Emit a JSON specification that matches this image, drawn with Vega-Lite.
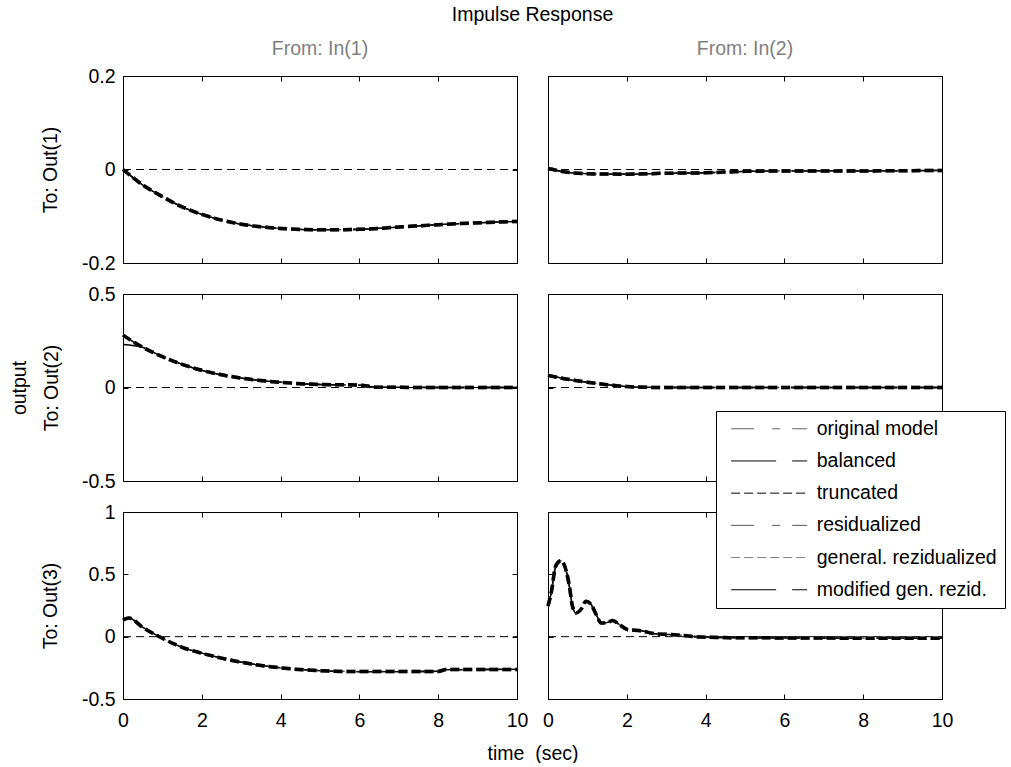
{
"$schema": "https://vega.github.io/schema/vega-lite/v6.json",
"background": "white",
"padding": {"left": 8, "top": 4, "right": 0, "bottom": 0},
"title": {"text": "Impulse Response", "anchor": "start", "frame": "group", "align": "center", "dx": 409.5, "fontSize": 19.5, "fontWeight": "normal", "color": "black", "font": "Liberation Sans", "offset": 13},
"data": {"values": [
{"p":11,"m":"A","t":0,"y":0},{"p":11,"m":"A","t":0.5,"y":-0.033},{"p":11,"m":"A","t":1,"y":-0.058},{"p":11,"m":"A","t":1.5,"y":-0.08},{"p":11,"m":"A","t":2,"y":-0.096},{"p":11,"m":"A","t":3,"y":-0.117},{"p":11,"m":"A","t":4,"y":-0.126},{"p":11,"m":"A","t":5,"y":-0.129},{"p":11,"m":"A","t":6,"y":-0.128},{"p":11,"m":"A","t":7,"y":-0.123},{"p":11,"m":"A","t":8,"y":-0.118},{"p":11,"m":"A","t":10,"y":-0.111},
{"p":11,"m":"B","t":0,"y":0},{"p":11,"m":"B","t":0.5,"y":-0.033},{"p":11,"m":"B","t":1,"y":-0.058},{"p":11,"m":"B","t":1.5,"y":-0.08},{"p":11,"m":"B","t":2,"y":-0.096},{"p":11,"m":"B","t":3,"y":-0.117},{"p":11,"m":"B","t":4,"y":-0.126},{"p":11,"m":"B","t":5,"y":-0.129},{"p":11,"m":"B","t":6,"y":-0.128},{"p":11,"m":"B","t":7,"y":-0.123},{"p":11,"m":"B","t":8,"y":-0.118},{"p":11,"m":"B","t":10,"y":-0.111},
{"p":11,"m":"D","t":0,"y":0},{"p":11,"m":"D","t":0.5,"y":-0.033},{"p":11,"m":"D","t":1,"y":-0.058},{"p":11,"m":"D","t":1.5,"y":-0.08},{"p":11,"m":"D","t":2,"y":-0.096},{"p":11,"m":"D","t":3,"y":-0.117},{"p":11,"m":"D","t":4,"y":-0.126},{"p":11,"m":"D","t":5,"y":-0.129},{"p":11,"m":"D","t":6,"y":-0.128},{"p":11,"m":"D","t":7,"y":-0.123},{"p":11,"m":"D","t":8,"y":-0.118},{"p":11,"m":"D","t":10,"y":-0.111},
{"p":11,"m":"F","t":0,"y":0},{"p":11,"m":"F","t":0.5,"y":-0.033},{"p":11,"m":"F","t":1,"y":-0.058},{"p":11,"m":"F","t":1.5,"y":-0.08},{"p":11,"m":"F","t":2,"y":-0.096},{"p":11,"m":"F","t":3,"y":-0.117},{"p":11,"m":"F","t":4,"y":-0.126},{"p":11,"m":"F","t":5,"y":-0.129},{"p":11,"m":"F","t":6,"y":-0.128},{"p":11,"m":"F","t":7,"y":-0.123},{"p":11,"m":"F","t":8,"y":-0.118},{"p":11,"m":"F","t":10,"y":-0.111},
{"p":11,"m":"E","t":0,"y":0},{"p":11,"m":"E","t":0.5,"y":-0.033},{"p":11,"m":"E","t":1,"y":-0.058},{"p":11,"m":"E","t":1.5,"y":-0.08},{"p":11,"m":"E","t":2,"y":-0.096},{"p":11,"m":"E","t":3,"y":-0.117},{"p":11,"m":"E","t":4,"y":-0.126},{"p":11,"m":"E","t":5,"y":-0.129},{"p":11,"m":"E","t":6,"y":-0.128},{"p":11,"m":"E","t":7,"y":-0.123},{"p":11,"m":"E","t":8,"y":-0.118},{"p":11,"m":"E","t":10,"y":-0.111},
{"p":11,"m":"C","t":0,"y":0},{"p":11,"m":"C","t":0.5,"y":-0.033},{"p":11,"m":"C","t":1,"y":-0.058},{"p":11,"m":"C","t":1.5,"y":-0.08},{"p":11,"m":"C","t":2,"y":-0.096},{"p":11,"m":"C","t":3,"y":-0.117},{"p":11,"m":"C","t":4,"y":-0.126},{"p":11,"m":"C","t":5,"y":-0.129},{"p":11,"m":"C","t":6,"y":-0.128},{"p":11,"m":"C","t":7,"y":-0.123},{"p":11,"m":"C","t":8,"y":-0.118},{"p":11,"m":"C","t":10,"y":-0.111},

{"p":12,"m":"A","t":0,"y":0.002},{"p":12,"m":"A","t":0.5,"y":-0.006},{"p":12,"m":"A","t":1,"y":-0.009},{"p":12,"m":"A","t":2,"y":-0.01},{"p":12,"m":"A","t":3,"y":-0.008},{"p":12,"m":"A","t":4,"y":-0.007},{"p":12,"m":"A","t":5,"y":-0.004},{"p":12,"m":"A","t":6,"y":-0.003},{"p":12,"m":"A","t":8,"y":-0.003},{"p":12,"m":"A","t":10,"y":-0.002},
{"p":12,"m":"B","t":0,"y":0.002},{"p":12,"m":"B","t":0.5,"y":-0.006},{"p":12,"m":"B","t":1,"y":-0.009},{"p":12,"m":"B","t":2,"y":-0.01},{"p":12,"m":"B","t":3,"y":-0.008},{"p":12,"m":"B","t":4,"y":-0.007},{"p":12,"m":"B","t":5,"y":-0.004},{"p":12,"m":"B","t":6,"y":-0.003},{"p":12,"m":"B","t":8,"y":-0.003},{"p":12,"m":"B","t":10,"y":-0.002},
{"p":12,"m":"D","t":0,"y":0.002},{"p":12,"m":"D","t":0.5,"y":-0.006},{"p":12,"m":"D","t":1,"y":-0.009},{"p":12,"m":"D","t":2,"y":-0.01},{"p":12,"m":"D","t":3,"y":-0.008},{"p":12,"m":"D","t":4,"y":-0.007},{"p":12,"m":"D","t":5,"y":-0.004},{"p":12,"m":"D","t":6,"y":-0.003},{"p":12,"m":"D","t":8,"y":-0.003},{"p":12,"m":"D","t":10,"y":-0.002},
{"p":12,"m":"F","t":0,"y":0.002},{"p":12,"m":"F","t":0.5,"y":-0.006},{"p":12,"m":"F","t":1,"y":-0.009},{"p":12,"m":"F","t":2,"y":-0.01},{"p":12,"m":"F","t":3,"y":-0.008},{"p":12,"m":"F","t":4,"y":-0.007},{"p":12,"m":"F","t":5,"y":-0.004},{"p":12,"m":"F","t":6,"y":-0.003},{"p":12,"m":"F","t":8,"y":-0.003},{"p":12,"m":"F","t":10,"y":-0.002},
{"p":12,"m":"E","t":0,"y":0.002},{"p":12,"m":"E","t":0.5,"y":-0.006},{"p":12,"m":"E","t":1,"y":-0.009},{"p":12,"m":"E","t":2,"y":-0.01},{"p":12,"m":"E","t":3,"y":-0.008},{"p":12,"m":"E","t":4,"y":-0.007},{"p":12,"m":"E","t":5,"y":-0.004},{"p":12,"m":"E","t":6,"y":-0.003},{"p":12,"m":"E","t":8,"y":-0.003},{"p":12,"m":"E","t":10,"y":-0.002},
{"p":12,"m":"C","t":0,"y":0.002},{"p":12,"m":"C","t":0.5,"y":-0.006},{"p":12,"m":"C","t":1,"y":-0.009},{"p":12,"m":"C","t":2,"y":-0.01},{"p":12,"m":"C","t":3,"y":-0.008},{"p":12,"m":"C","t":4,"y":-0.007},{"p":12,"m":"C","t":5,"y":-0.004},{"p":12,"m":"C","t":6,"y":-0.003},{"p":12,"m":"C","t":8,"y":-0.003},{"p":12,"m":"C","t":10,"y":-0.002},

{"p":21,"m":"A","t":0,"y":0.28},{"p":21,"m":"A","t":0.5,"y":0.215},{"p":21,"m":"A","t":1,"y":0.165},{"p":21,"m":"A","t":1.5,"y":0.124},{"p":21,"m":"A","t":2,"y":0.092},{"p":21,"m":"A","t":3,"y":0.05},{"p":21,"m":"A","t":4,"y":0.028},{"p":21,"m":"A","t":5,"y":0.016},{"p":21,"m":"A","t":6,"y":0.013},{"p":21,"m":"A","t":6.4,"y":0.002},{"p":21,"m":"A","t":8,"y":0},{"p":21,"m":"A","t":10,"y":0},
{"p":21,"m":"B","t":0,"y":0.23},{"p":21,"m":"B","t":0.5,"y":0.215},{"p":21,"m":"B","t":1,"y":0.165},{"p":21,"m":"B","t":1.5,"y":0.124},{"p":21,"m":"B","t":2,"y":0.092},{"p":21,"m":"B","t":3,"y":0.05},{"p":21,"m":"B","t":4,"y":0.028},{"p":21,"m":"B","t":5,"y":0.016},{"p":21,"m":"B","t":6,"y":0.013},{"p":21,"m":"B","t":6.4,"y":0.002},{"p":21,"m":"B","t":8,"y":0},{"p":21,"m":"B","t":10,"y":0},
{"p":21,"m":"D","t":0,"y":0.28},{"p":21,"m":"D","t":0.5,"y":0.215},{"p":21,"m":"D","t":1,"y":0.165},{"p":21,"m":"D","t":1.5,"y":0.124},{"p":21,"m":"D","t":2,"y":0.092},{"p":21,"m":"D","t":3,"y":0.05},{"p":21,"m":"D","t":4,"y":0.028},{"p":21,"m":"D","t":5,"y":0.016},{"p":21,"m":"D","t":6,"y":0.013},{"p":21,"m":"D","t":6.4,"y":0.002},{"p":21,"m":"D","t":8,"y":0},{"p":21,"m":"D","t":10,"y":0},
{"p":21,"m":"F","t":0,"y":0.28},{"p":21,"m":"F","t":0.5,"y":0.215},{"p":21,"m":"F","t":1,"y":0.165},{"p":21,"m":"F","t":1.5,"y":0.124},{"p":21,"m":"F","t":2,"y":0.092},{"p":21,"m":"F","t":3,"y":0.05},{"p":21,"m":"F","t":4,"y":0.028},{"p":21,"m":"F","t":5,"y":0.016},{"p":21,"m":"F","t":6,"y":0.013},{"p":21,"m":"F","t":6.4,"y":0.002},{"p":21,"m":"F","t":8,"y":0},{"p":21,"m":"F","t":10,"y":0},
{"p":21,"m":"E","t":0,"y":0.28},{"p":21,"m":"E","t":0.5,"y":0.215},{"p":21,"m":"E","t":1,"y":0.165},{"p":21,"m":"E","t":1.5,"y":0.124},{"p":21,"m":"E","t":2,"y":0.092},{"p":21,"m":"E","t":3,"y":0.05},{"p":21,"m":"E","t":4,"y":0.028},{"p":21,"m":"E","t":5,"y":0.016},{"p":21,"m":"E","t":6,"y":0.013},{"p":21,"m":"E","t":6.4,"y":0.002},{"p":21,"m":"E","t":8,"y":0},{"p":21,"m":"E","t":10,"y":0},
{"p":21,"m":"C","t":0,"y":0.28},{"p":21,"m":"C","t":0.5,"y":0.215},{"p":21,"m":"C","t":1,"y":0.165},{"p":21,"m":"C","t":1.5,"y":0.124},{"p":21,"m":"C","t":2,"y":0.092},{"p":21,"m":"C","t":3,"y":0.05},{"p":21,"m":"C","t":4,"y":0.028},{"p":21,"m":"C","t":5,"y":0.016},{"p":21,"m":"C","t":6,"y":0.013},{"p":21,"m":"C","t":6.4,"y":0.002},{"p":21,"m":"C","t":8,"y":0},{"p":21,"m":"C","t":10,"y":0},

{"p":22,"m":"A","t":0,"y":0.065},{"p":22,"m":"A","t":0.5,"y":0.044},{"p":22,"m":"A","t":1,"y":0.028},{"p":22,"m":"A","t":1.5,"y":0.015},{"p":22,"m":"A","t":2,"y":0.005},{"p":22,"m":"A","t":2.5,"y":0.001},{"p":22,"m":"A","t":3,"y":0},{"p":22,"m":"A","t":5,"y":0},{"p":22,"m":"A","t":10,"y":0},
{"p":22,"m":"B","t":0,"y":0.065},{"p":22,"m":"B","t":0.5,"y":0.044},{"p":22,"m":"B","t":1,"y":0.028},{"p":22,"m":"B","t":1.5,"y":0.015},{"p":22,"m":"B","t":2,"y":0.005},{"p":22,"m":"B","t":2.5,"y":0.001},{"p":22,"m":"B","t":3,"y":0},{"p":22,"m":"B","t":5,"y":0},{"p":22,"m":"B","t":10,"y":0},
{"p":22,"m":"D","t":0,"y":0.065},{"p":22,"m":"D","t":0.5,"y":0.044},{"p":22,"m":"D","t":1,"y":0.028},{"p":22,"m":"D","t":1.5,"y":0.015},{"p":22,"m":"D","t":2,"y":0.005},{"p":22,"m":"D","t":2.5,"y":0.001},{"p":22,"m":"D","t":3,"y":0},{"p":22,"m":"D","t":5,"y":0},{"p":22,"m":"D","t":10,"y":0},
{"p":22,"m":"F","t":0,"y":0.065},{"p":22,"m":"F","t":0.5,"y":0.044},{"p":22,"m":"F","t":1,"y":0.028},{"p":22,"m":"F","t":1.5,"y":0.015},{"p":22,"m":"F","t":2,"y":0.005},{"p":22,"m":"F","t":2.5,"y":0.001},{"p":22,"m":"F","t":3,"y":0},{"p":22,"m":"F","t":5,"y":0},{"p":22,"m":"F","t":10,"y":0},
{"p":22,"m":"E","t":0,"y":0.065},{"p":22,"m":"E","t":0.5,"y":0.044},{"p":22,"m":"E","t":1,"y":0.028},{"p":22,"m":"E","t":1.5,"y":0.015},{"p":22,"m":"E","t":2,"y":0.005},{"p":22,"m":"E","t":2.5,"y":0.001},{"p":22,"m":"E","t":3,"y":0},{"p":22,"m":"E","t":5,"y":0},{"p":22,"m":"E","t":10,"y":0},
{"p":22,"m":"C","t":0,"y":0.065},{"p":22,"m":"C","t":0.5,"y":0.044},{"p":22,"m":"C","t":1,"y":0.028},{"p":22,"m":"C","t":1.5,"y":0.015},{"p":22,"m":"C","t":2,"y":0.005},{"p":22,"m":"C","t":2.5,"y":0.001},{"p":22,"m":"C","t":3,"y":0},{"p":22,"m":"C","t":5,"y":0},{"p":22,"m":"C","t":10,"y":0},

{"p":31,"m":"A","t":0,"y":0.135},{"p":31,"m":"A","t":0.15,"y":0.149},{"p":31,"m":"A","t":0.5,"y":0.075},{"p":31,"m":"A","t":1,"y":-0.013},{"p":31,"m":"A","t":1.5,"y":-0.085},{"p":31,"m":"A","t":2,"y":-0.133},{"p":31,"m":"A","t":2.5,"y":-0.172},{"p":31,"m":"A","t":3,"y":-0.205},{"p":31,"m":"A","t":4,"y":-0.25},{"p":31,"m":"A","t":5,"y":-0.273},{"p":31,"m":"A","t":6,"y":-0.28},{"p":31,"m":"A","t":8,"y":-0.279},{"p":31,"m":"A","t":8.2,"y":-0.264},{"p":31,"m":"A","t":10,"y":-0.263},
{"p":31,"m":"B","t":0,"y":0.135},{"p":31,"m":"B","t":0.15,"y":0.149},{"p":31,"m":"B","t":0.5,"y":0.075},{"p":31,"m":"B","t":1,"y":-0.013},{"p":31,"m":"B","t":1.5,"y":-0.085},{"p":31,"m":"B","t":2,"y":-0.133},{"p":31,"m":"B","t":2.5,"y":-0.172},{"p":31,"m":"B","t":3,"y":-0.205},{"p":31,"m":"B","t":4,"y":-0.25},{"p":31,"m":"B","t":5,"y":-0.273},{"p":31,"m":"B","t":6,"y":-0.28},{"p":31,"m":"B","t":8,"y":-0.279},{"p":31,"m":"B","t":8.2,"y":-0.264},{"p":31,"m":"B","t":10,"y":-0.263},
{"p":31,"m":"D","t":0,"y":0.135},{"p":31,"m":"D","t":0.15,"y":0.149},{"p":31,"m":"D","t":0.5,"y":0.075},{"p":31,"m":"D","t":1,"y":-0.013},{"p":31,"m":"D","t":1.5,"y":-0.085},{"p":31,"m":"D","t":2,"y":-0.133},{"p":31,"m":"D","t":2.5,"y":-0.172},{"p":31,"m":"D","t":3,"y":-0.205},{"p":31,"m":"D","t":4,"y":-0.25},{"p":31,"m":"D","t":5,"y":-0.273},{"p":31,"m":"D","t":6,"y":-0.28},{"p":31,"m":"D","t":8,"y":-0.279},{"p":31,"m":"D","t":8.2,"y":-0.264},{"p":31,"m":"D","t":10,"y":-0.263},
{"p":31,"m":"F","t":0,"y":0.135},{"p":31,"m":"F","t":0.15,"y":0.149},{"p":31,"m":"F","t":0.5,"y":0.075},{"p":31,"m":"F","t":1,"y":-0.013},{"p":31,"m":"F","t":1.5,"y":-0.085},{"p":31,"m":"F","t":2,"y":-0.133},{"p":31,"m":"F","t":2.5,"y":-0.172},{"p":31,"m":"F","t":3,"y":-0.205},{"p":31,"m":"F","t":4,"y":-0.25},{"p":31,"m":"F","t":5,"y":-0.273},{"p":31,"m":"F","t":6,"y":-0.28},{"p":31,"m":"F","t":8,"y":-0.279},{"p":31,"m":"F","t":8.2,"y":-0.264},{"p":31,"m":"F","t":10,"y":-0.263},
{"p":31,"m":"E","t":0,"y":0.135},{"p":31,"m":"E","t":0.15,"y":0.149},{"p":31,"m":"E","t":0.5,"y":0.075},{"p":31,"m":"E","t":1,"y":-0.013},{"p":31,"m":"E","t":1.5,"y":-0.085},{"p":31,"m":"E","t":2,"y":-0.133},{"p":31,"m":"E","t":2.5,"y":-0.172},{"p":31,"m":"E","t":3,"y":-0.205},{"p":31,"m":"E","t":4,"y":-0.25},{"p":31,"m":"E","t":5,"y":-0.273},{"p":31,"m":"E","t":6,"y":-0.28},{"p":31,"m":"E","t":8,"y":-0.279},{"p":31,"m":"E","t":8.2,"y":-0.264},{"p":31,"m":"E","t":10,"y":-0.263},
{"p":31,"m":"C","t":0,"y":0.135},{"p":31,"m":"C","t":0.15,"y":0.149},{"p":31,"m":"C","t":0.5,"y":0.075},{"p":31,"m":"C","t":1,"y":-0.013},{"p":31,"m":"C","t":1.5,"y":-0.085},{"p":31,"m":"C","t":2,"y":-0.133},{"p":31,"m":"C","t":2.5,"y":-0.172},{"p":31,"m":"C","t":3,"y":-0.205},{"p":31,"m":"C","t":4,"y":-0.25},{"p":31,"m":"C","t":5,"y":-0.273},{"p":31,"m":"C","t":6,"y":-0.28},{"p":31,"m":"C","t":8,"y":-0.279},{"p":31,"m":"C","t":8.2,"y":-0.264},{"p":31,"m":"C","t":10,"y":-0.263},

{"p":32,"m":"A","t":0,"y":0.245},{"p":32,"m":"A","t":0.08,"y":0.35},{"p":32,"m":"A","t":0.2,"y":0.57},{"p":32,"m":"A","t":0.33,"y":0.61},{"p":32,"m":"A","t":0.46,"y":0.53},{"p":32,"m":"A","t":0.54,"y":0.41},{"p":32,"m":"A","t":0.62,"y":0.245},{"p":32,"m":"A","t":0.71,"y":0.19},{"p":32,"m":"A","t":0.84,"y":0.22},{"p":32,"m":"A","t":0.96,"y":0.285},{"p":32,"m":"A","t":1.09,"y":0.26},{"p":32,"m":"A","t":1.22,"y":0.18},{"p":32,"m":"A","t":1.35,"y":0.11},{"p":32,"m":"A","t":1.52,"y":0.115},{"p":32,"m":"A","t":1.64,"y":0.13},{"p":32,"m":"A","t":1.81,"y":0.097},{"p":32,"m":"A","t":2.03,"y":0.056},{"p":32,"m":"A","t":2.36,"y":0.048},{"p":32,"m":"A","t":2.7,"y":0.024},{"p":32,"m":"A","t":3.2,"y":0.016},{"p":32,"m":"A","t":3.9,"y":-0.003},{"p":32,"m":"A","t":4.6,"y":-0.008},{"p":32,"m":"A","t":6,"y":-0.01},{"p":32,"m":"A","t":8,"y":-0.012},{"p":32,"m":"A","t":10,"y":-0.012},
{"p":32,"m":"B","t":0,"y":0.245},{"p":32,"m":"B","t":0.08,"y":0.35},{"p":32,"m":"B","t":0.2,"y":0.57},{"p":32,"m":"B","t":0.33,"y":0.61},{"p":32,"m":"B","t":0.46,"y":0.53},{"p":32,"m":"B","t":0.54,"y":0.41},{"p":32,"m":"B","t":0.62,"y":0.245},{"p":32,"m":"B","t":0.71,"y":0.19},{"p":32,"m":"B","t":0.84,"y":0.22},{"p":32,"m":"B","t":0.96,"y":0.285},{"p":32,"m":"B","t":1.09,"y":0.26},{"p":32,"m":"B","t":1.22,"y":0.18},{"p":32,"m":"B","t":1.35,"y":0.11},{"p":32,"m":"B","t":1.52,"y":0.115},{"p":32,"m":"B","t":1.64,"y":0.13},{"p":32,"m":"B","t":1.81,"y":0.097},{"p":32,"m":"B","t":2.03,"y":0.056},{"p":32,"m":"B","t":2.36,"y":0.048},{"p":32,"m":"B","t":2.7,"y":0.024},{"p":32,"m":"B","t":3.2,"y":0.016},{"p":32,"m":"B","t":3.9,"y":-0.003},{"p":32,"m":"B","t":4.6,"y":-0.008},{"p":32,"m":"B","t":6,"y":-0.01},{"p":32,"m":"B","t":8,"y":-0.012},{"p":32,"m":"B","t":10,"y":-0.012},
{"p":32,"m":"D","t":0,"y":0.245},{"p":32,"m":"D","t":0.08,"y":0.35},{"p":32,"m":"D","t":0.2,"y":0.57},{"p":32,"m":"D","t":0.33,"y":0.61},{"p":32,"m":"D","t":0.46,"y":0.53},{"p":32,"m":"D","t":0.54,"y":0.41},{"p":32,"m":"D","t":0.62,"y":0.245},{"p":32,"m":"D","t":0.71,"y":0.19},{"p":32,"m":"D","t":0.84,"y":0.22},{"p":32,"m":"D","t":0.96,"y":0.285},{"p":32,"m":"D","t":1.09,"y":0.26},{"p":32,"m":"D","t":1.22,"y":0.18},{"p":32,"m":"D","t":1.35,"y":0.11},{"p":32,"m":"D","t":1.52,"y":0.115},{"p":32,"m":"D","t":1.64,"y":0.13},{"p":32,"m":"D","t":1.81,"y":0.097},{"p":32,"m":"D","t":2.03,"y":0.056},{"p":32,"m":"D","t":2.36,"y":0.048},{"p":32,"m":"D","t":2.7,"y":0.024},{"p":32,"m":"D","t":3.2,"y":0.016},{"p":32,"m":"D","t":3.9,"y":-0.003},{"p":32,"m":"D","t":4.6,"y":-0.008},{"p":32,"m":"D","t":6,"y":-0.01},{"p":32,"m":"D","t":8,"y":-0.012},{"p":32,"m":"D","t":10,"y":-0.012},
{"p":32,"m":"F","t":0,"y":0.245},{"p":32,"m":"F","t":0.08,"y":0.35},{"p":32,"m":"F","t":0.2,"y":0.57},{"p":32,"m":"F","t":0.33,"y":0.61},{"p":32,"m":"F","t":0.46,"y":0.53},{"p":32,"m":"F","t":0.54,"y":0.41},{"p":32,"m":"F","t":0.62,"y":0.245},{"p":32,"m":"F","t":0.71,"y":0.19},{"p":32,"m":"F","t":0.84,"y":0.22},{"p":32,"m":"F","t":0.96,"y":0.285},{"p":32,"m":"F","t":1.09,"y":0.26},{"p":32,"m":"F","t":1.22,"y":0.18},{"p":32,"m":"F","t":1.35,"y":0.11},{"p":32,"m":"F","t":1.52,"y":0.115},{"p":32,"m":"F","t":1.64,"y":0.13},{"p":32,"m":"F","t":1.81,"y":0.097},{"p":32,"m":"F","t":2.03,"y":0.056},{"p":32,"m":"F","t":2.36,"y":0.048},{"p":32,"m":"F","t":2.7,"y":0.024},{"p":32,"m":"F","t":3.2,"y":0.016},{"p":32,"m":"F","t":3.9,"y":-0.003},{"p":32,"m":"F","t":4.6,"y":-0.008},{"p":32,"m":"F","t":6,"y":-0.01},{"p":32,"m":"F","t":8,"y":-0.012},{"p":32,"m":"F","t":10,"y":-0.012},
{"p":32,"m":"E","t":0,"y":0.245},{"p":32,"m":"E","t":0.08,"y":0.35},{"p":32,"m":"E","t":0.2,"y":0.57},{"p":32,"m":"E","t":0.33,"y":0.61},{"p":32,"m":"E","t":0.46,"y":0.53},{"p":32,"m":"E","t":0.54,"y":0.41},{"p":32,"m":"E","t":0.62,"y":0.245},{"p":32,"m":"E","t":0.71,"y":0.19},{"p":32,"m":"E","t":0.84,"y":0.22},{"p":32,"m":"E","t":0.96,"y":0.285},{"p":32,"m":"E","t":1.09,"y":0.26},{"p":32,"m":"E","t":1.22,"y":0.18},{"p":32,"m":"E","t":1.35,"y":0.11},{"p":32,"m":"E","t":1.52,"y":0.115},{"p":32,"m":"E","t":1.64,"y":0.13},{"p":32,"m":"E","t":1.81,"y":0.097},{"p":32,"m":"E","t":2.03,"y":0.056},{"p":32,"m":"E","t":2.36,"y":0.048},{"p":32,"m":"E","t":2.7,"y":0.024},{"p":32,"m":"E","t":3.2,"y":0.016},{"p":32,"m":"E","t":3.9,"y":-0.003},{"p":32,"m":"E","t":4.6,"y":-0.008},{"p":32,"m":"E","t":6,"y":-0.01},{"p":32,"m":"E","t":8,"y":-0.012},{"p":32,"m":"E","t":10,"y":-0.012},
{"p":32,"m":"C","t":0,"y":0.245},{"p":32,"m":"C","t":0.08,"y":0.35},{"p":32,"m":"C","t":0.2,"y":0.57},{"p":32,"m":"C","t":0.33,"y":0.61},{"p":32,"m":"C","t":0.46,"y":0.53},{"p":32,"m":"C","t":0.54,"y":0.41},{"p":32,"m":"C","t":0.62,"y":0.245},{"p":32,"m":"C","t":0.71,"y":0.19},{"p":32,"m":"C","t":0.84,"y":0.22},{"p":32,"m":"C","t":0.96,"y":0.285},{"p":32,"m":"C","t":1.09,"y":0.26},{"p":32,"m":"C","t":1.22,"y":0.18},{"p":32,"m":"C","t":1.35,"y":0.11},{"p":32,"m":"C","t":1.52,"y":0.115},{"p":32,"m":"C","t":1.64,"y":0.13},{"p":32,"m":"C","t":1.81,"y":0.097},{"p":32,"m":"C","t":2.03,"y":0.056},{"p":32,"m":"C","t":2.36,"y":0.048},{"p":32,"m":"C","t":2.7,"y":0.024},{"p":32,"m":"C","t":3.2,"y":0.016},{"p":32,"m":"C","t":3.9,"y":-0.003},{"p":32,"m":"C","t":4.6,"y":-0.008},{"p":32,"m":"C","t":6,"y":-0.01},{"p":32,"m":"C","t":8,"y":-0.012},{"p":32,"m":"C","t":10,"y":-0.012}
]},
"columns": 2,
"spacing": 31,
"bounds": "flush",
"concat": [
{"width": 394, "height": 187,
 "title": {"text": "From: In(1)", "color": "#808080", "fontSize": 19.5, "fontWeight": "normal", "frame": "group", "anchor": "middle", "offset": 7},
 "layer": [
  {"data": {"values": [{}]}, "mark": {"type": "rule", "strokeDash": [8, 5], "color": "black", "strokeWidth": 1},
   "encoding": {"x": {"datum": 0, "type": "quantitative", "scale": {"domain": [0, 10], "nice": false, "zero": false}, "axis": {"orient": "top", "labels": false, "title": null, "values": [0, 2, 4, 6, 8, 10]}}, "x2": {"datum": 10},
    "y": {"datum": 0, "type": "quantitative", "scale": {"domain": [-0.2, 0.2], "nice": false, "zero": false}, "axis": {"orient": "right", "labels": false, "title": null, "values": [-0.2, 0, 0.2]}}}},
  {"transform": [{"filter": "datum.p == 11 && datum.m != 'C' && datum.m != 'E'"}], "mark": {"type": "line", "strokeWidth": 1.3, "interpolate": "monotone", "strokeCap": "butt"},
   "encoding": {"x": {"field": "t", "type": "quantitative", "scale": {"domain": [0, 10], "nice": false, "zero": false}, "axis": {"orient": "bottom", "labels": false, "title": null, "values": [0, 2, 4, 6, 8, 10]}},
    "y": {"field": "y", "type": "quantitative", "scale": {"domain": [-0.2, 0.2], "nice": false, "zero": false}, "axis": {"orient": "left", "title": "To: Out(1)", "titleX": -73, "titleY": 93.5, "titleAlign": "center", "titleBaseline": "middle", "values": [-0.2, 0, 0.2]}},
    "color": {"field": "m", "type": "nominal", "scale": {"domain": ["A", "B", "C", "D", "E", "F"], "range": ["#666666", "#000000", "#000000", "#555555", "#808080", "#000000"]}, "legend": {"title": null, "orient": "none", "legendX": 593, "legendY": 335, "zindex": 1, "labelExpr": "{'A':'original model','B':'balanced','C':'truncated','D':'residualized','E':'general. rezidualized','F':'modified gen. rezid.'}[datum.label]"}},
    "strokeDash": {"field": "m", "type": "nominal", "scale": {"domain": ["A", "B", "C", "D", "E", "F"], "range": [[23, 18, 8, 12], [45, 16], [9, 4], [23, 18, 8, 12], [9, 4], [45, 16]]}, "legend": {"title": null, "orient": "none", "legendX": 593, "legendY": 335, "zindex": 1, "labelExpr": "{'A':'original model','B':'balanced','C':'truncated','D':'residualized','E':'general. rezidualized','F':'modified gen. rezid.'}[datum.label]"}}}},
  {"transform": [{"filter": "datum.p == 11 && (datum.m == 'C' || datum.m == 'E')"}], "mark": {"type": "line", "strokeWidth": 3.5, "interpolate": "monotone", "strokeCap": "butt"},
   "encoding": {"x": {"field": "t", "type": "quantitative", "axis": null}, "y": {"field": "y", "type": "quantitative", "axis": null},
    "color": {"field": "m", "type": "nominal", "legend": null}, "strokeDash": {"field": "m", "type": "nominal", "legend": null}}}
 ]},
{"width": 394, "height": 187,
 "title": {"text": "From: In(2)", "color": "#808080", "fontSize": 19.5, "fontWeight": "normal", "frame": "group", "anchor": "middle", "offset": 16},
 "layer": [
  {"data": {"values": [{}]}, "mark": {"type": "rule", "strokeDash": [8, 5], "color": "black", "strokeWidth": 1},
   "encoding": {"x": {"datum": 0, "type": "quantitative", "scale": {"domain": [0, 10], "nice": false, "zero": false}, "axis": {"orient": "top", "labels": false, "title": null, "values": [0, 2, 4, 6, 8, 10]}}, "x2": {"datum": 10},
    "y": {"datum": 0, "type": "quantitative", "scale": {"domain": [-0.2, 0.2], "nice": false, "zero": false}, "axis": {"orient": "right", "labels": false, "title": null, "values": [-0.2, 0, 0.2]}}}},
  {"transform": [{"filter": "datum.p == 12 && datum.m != 'C' && datum.m != 'E'"}], "mark": {"type": "line", "strokeWidth": 1.3, "interpolate": "monotone", "strokeCap": "butt"},
   "encoding": {"x": {"field": "t", "type": "quantitative", "scale": {"domain": [0, 10], "nice": false, "zero": false}, "axis": {"orient": "bottom", "labels": false, "title": null, "values": [0, 2, 4, 6, 8, 10]}},
    "y": {"field": "y", "type": "quantitative", "scale": {"domain": [-0.2, 0.2], "nice": false, "zero": false}, "axis": {"orient": "left", "labels": false, "title": null, "values": [-0.2, 0, 0.2]}},
    "color": {"field": "m", "type": "nominal", "legend": null}, "strokeDash": {"field": "m", "type": "nominal", "legend": null}}},
  {"transform": [{"filter": "datum.p == 12 && (datum.m == 'C' || datum.m == 'E')"}], "mark": {"type": "line", "strokeWidth": 3.5, "interpolate": "monotone", "strokeCap": "butt"},
   "encoding": {"x": {"field": "t", "type": "quantitative", "axis": null}, "y": {"field": "y", "type": "quantitative", "axis": null},
    "color": {"field": "m", "type": "nominal", "legend": null}, "strokeDash": {"field": "m", "type": "nominal", "legend": null}}}
 ]},
{"width": 394, "height": 187,
 "layer": [
  {"data": {"values": [{}]}, "mark": {"type": "rule", "strokeDash": [8, 5], "color": "black", "strokeWidth": 1},
   "encoding": {"x": {"datum": 0, "type": "quantitative", "scale": {"domain": [0, 10], "nice": false, "zero": false}, "axis": {"orient": "top", "labels": false, "title": null, "values": [0, 2, 4, 6, 8, 10]}}, "x2": {"datum": 10},
    "y": {"datum": 0, "type": "quantitative", "scale": {"domain": [-0.5, 0.5], "nice": false, "zero": false}, "axis": {"orient": "right", "labels": false, "title": null, "values": [-0.5, 0, 0.5]}}}},
  {"transform": [{"filter": "datum.p == 21 && datum.m != 'C' && datum.m != 'E'"}], "mark": {"type": "line", "strokeWidth": 1.3, "interpolate": "monotone", "strokeCap": "butt"},
   "encoding": {"x": {"field": "t", "type": "quantitative", "scale": {"domain": [0, 10], "nice": false, "zero": false}, "axis": {"orient": "bottom", "labels": false, "title": null, "values": [0, 2, 4, 6, 8, 10]}},
    "y": {"field": "y", "type": "quantitative", "scale": {"domain": [-0.5, 0.5], "nice": false, "zero": false}, "axis": {"orient": "left", "title": ["output", "To: Out(2)"], "titleLineHeight": 32, "titleX": -104, "titleY": 93.5, "titleAlign": "center", "titleBaseline": "middle", "values": [-0.5, 0, 0.5]}},
    "color": {"field": "m", "type": "nominal", "legend": null}, "strokeDash": {"field": "m", "type": "nominal", "legend": null}}},
  {"transform": [{"filter": "datum.p == 21 && (datum.m == 'C' || datum.m == 'E')"}], "mark": {"type": "line", "strokeWidth": 3.5, "interpolate": "monotone", "strokeCap": "butt"},
   "encoding": {"x": {"field": "t", "type": "quantitative", "axis": null}, "y": {"field": "y", "type": "quantitative", "axis": null},
    "color": {"field": "m", "type": "nominal", "legend": null}, "strokeDash": {"field": "m", "type": "nominal", "legend": null}}}
 ]},
{"width": 394, "height": 187,
 "layer": [
  {"data": {"values": [{}]}, "mark": {"type": "rule", "strokeDash": [8, 5], "color": "black", "strokeWidth": 1},
   "encoding": {"x": {"datum": 0, "type": "quantitative", "scale": {"domain": [0, 10], "nice": false, "zero": false}, "axis": {"orient": "top", "labels": false, "title": null, "values": [0, 2, 4, 6, 8, 10]}}, "x2": {"datum": 10},
    "y": {"datum": 0, "type": "quantitative", "scale": {"domain": [-0.5, 0.5], "nice": false, "zero": false}, "axis": {"orient": "right", "labels": false, "title": null, "values": [-0.5, 0, 0.5]}}}},
  {"transform": [{"filter": "datum.p == 22 && datum.m != 'C' && datum.m != 'E'"}], "mark": {"type": "line", "strokeWidth": 1.3, "interpolate": "monotone", "strokeCap": "butt"},
   "encoding": {"x": {"field": "t", "type": "quantitative", "scale": {"domain": [0, 10], "nice": false, "zero": false}, "axis": {"orient": "bottom", "labels": false, "title": null, "values": [0, 2, 4, 6, 8, 10]}},
    "y": {"field": "y", "type": "quantitative", "scale": {"domain": [-0.5, 0.5], "nice": false, "zero": false}, "axis": {"orient": "left", "labels": false, "title": null, "values": [-0.5, 0, 0.5]}},
    "color": {"field": "m", "type": "nominal", "legend": null}, "strokeDash": {"field": "m", "type": "nominal", "legend": null}}},
  {"transform": [{"filter": "datum.p == 22 && (datum.m == 'C' || datum.m == 'E')"}], "mark": {"type": "line", "strokeWidth": 3.5, "interpolate": "monotone", "strokeCap": "butt"},
   "encoding": {"x": {"field": "t", "type": "quantitative", "axis": null}, "y": {"field": "y", "type": "quantitative", "axis": null},
    "color": {"field": "m", "type": "nominal", "legend": null}, "strokeDash": {"field": "m", "type": "nominal", "legend": null}}}
 ]},
{"width": 394, "height": 187,
 "layer": [
  {"data": {"values": [{}]}, "mark": {"type": "rule", "strokeDash": [8, 5], "color": "black", "strokeWidth": 1},
   "encoding": {"x": {"datum": 0, "type": "quantitative", "scale": {"domain": [0, 10], "nice": false, "zero": false}, "axis": {"orient": "top", "labels": false, "title": null, "values": [0, 2, 4, 6, 8, 10]}}, "x2": {"datum": 10},
    "y": {"datum": 0, "type": "quantitative", "scale": {"domain": [-0.5, 1], "nice": false, "zero": false}, "axis": {"orient": "right", "labels": false, "title": null, "values": [-0.5, 0, 0.5, 1]}}}},
  {"transform": [{"filter": "datum.p == 31 && datum.m != 'C' && datum.m != 'E'"}], "mark": {"type": "line", "strokeWidth": 1.3, "interpolate": "monotone", "strokeCap": "butt"},
   "encoding": {"x": {"field": "t", "type": "quantitative", "scale": {"domain": [0, 10], "nice": false, "zero": false}, "axis": {"orient": "bottom", "title": "time \u00a0(sec)", "titleX": 409.5, "titleY": 54, "titleAlign": "center", "titleBaseline": "middle", "values": [0, 2, 4, 6, 8, 10]}},
    "y": {"field": "y", "type": "quantitative", "scale": {"domain": [-0.5, 1], "nice": false, "zero": false}, "axis": {"orient": "left", "title": "To: Out(3)", "titleX": -73, "titleY": 93.5, "titleAlign": "center", "titleBaseline": "middle", "values": [-0.5, 0, 0.5, 1]}},
    "color": {"field": "m", "type": "nominal", "legend": null}, "strokeDash": {"field": "m", "type": "nominal", "legend": null}}},
  {"transform": [{"filter": "datum.p == 31 && (datum.m == 'C' || datum.m == 'E')"}], "mark": {"type": "line", "strokeWidth": 3.5, "interpolate": "monotone", "strokeCap": "butt"},
   "encoding": {"x": {"field": "t", "type": "quantitative", "axis": null}, "y": {"field": "y", "type": "quantitative", "axis": null},
    "color": {"field": "m", "type": "nominal", "legend": null}, "strokeDash": {"field": "m", "type": "nominal", "legend": null}}}
 ]},
{"width": 394, "height": 187,
 "layer": [
  {"data": {"values": [{}]}, "mark": {"type": "rule", "strokeDash": [8, 5], "color": "black", "strokeWidth": 1},
   "encoding": {"x": {"datum": 0, "type": "quantitative", "scale": {"domain": [0, 10], "nice": false, "zero": false}, "axis": {"orient": "top", "labels": false, "title": null, "values": [0, 2, 4, 6, 8, 10]}}, "x2": {"datum": 10},
    "y": {"datum": 0, "type": "quantitative", "scale": {"domain": [-0.5, 1], "nice": false, "zero": false}, "axis": {"orient": "right", "labels": false, "title": null, "values": [-0.5, 0, 0.5, 1]}}}},
  {"transform": [{"filter": "datum.p == 32 && datum.m != 'C' && datum.m != 'E'"}], "mark": {"type": "line", "strokeWidth": 1.3, "interpolate": "monotone", "strokeCap": "butt"},
   "encoding": {"x": {"field": "t", "type": "quantitative", "scale": {"domain": [0, 10], "nice": false, "zero": false}, "axis": {"orient": "bottom", "title": null, "values": [0, 2, 4, 6, 8, 10]}},
    "y": {"field": "y", "type": "quantitative", "scale": {"domain": [-0.5, 1], "nice": false, "zero": false}, "axis": {"orient": "left", "labels": false, "title": null, "values": [-0.5, 0, 0.5, 1]}},
    "color": {"field": "m", "type": "nominal", "legend": null}, "strokeDash": {"field": "m", "type": "nominal", "legend": null}}},
  {"transform": [{"filter": "datum.p == 32 && (datum.m == 'C' || datum.m == 'E')"}], "mark": {"type": "line", "strokeWidth": 3.5, "interpolate": "monotone", "strokeCap": "butt"},
   "encoding": {"x": {"field": "t", "type": "quantitative", "axis": null}, "y": {"field": "y", "type": "quantitative", "axis": null},
    "color": {"field": "m", "type": "nominal", "legend": null}, "strokeDash": {"field": "m", "type": "nominal", "legend": null}}}
 ]}
],
"config": {
 "font": "Liberation Sans",
 "view": {"stroke": "black", "strokeWidth": 1},
 "axis": {"grid": false, "domain": false, "tickColor": "black", "tickSize": -5, "tickWidth": 1, "labelFontSize": 19.5, "labelColor": "black", "labelFont": "Liberation Sans", "labelFlush": false, "labelOverlap": false, "titleFont": "Liberation Sans", "titleFontSize": 19.5, "titleFontWeight": "normal", "titleColor": "black", "labelExpr": "'' + datum.value"},
 "axisX": {"labelPadding": 17},
 "axisY": {"labelPadding": 13},
 "legend": {"strokeColor": "black", "fillColor": "white", "padding": 8, "cornerRadius": 0, "labelFontSize": 19.5, "labelColor": "black", "labelFont": "Liberation Sans", "symbolType": "M-5,0H5", "symbolSize": 231, "symbolOffset": 35.4, "symbolStrokeWidth": 1, "labelOffset": 37.8, "rowPadding": 11.2, "labelLimit": 400},
 "title": {"font": "Liberation Sans"}
}
}
